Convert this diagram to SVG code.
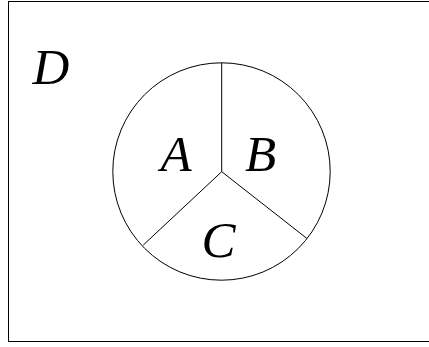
<svg xmlns="http://www.w3.org/2000/svg" width="429" height="347" viewBox="0 0 429 347">
<style>
.ln{fill:none;stroke:#000;stroke-width:1}
.lb{font-family:'Liberation Serif',serif;font-style:italic;font-size:51px;fill:#000;text-anchor:middle}
</style>
<rect width="429" height="347" fill="#fff"/>
<g id="D">
<rect x="8.5" y="1.5" width="430" height="340" class="ln" stroke-width="1.2"/>
<text class="lb" x="51" y="83.5">D</text>
</g>
<g id="circle">
<circle cx="221.5" cy="171.5" r="108.7" class="ln"/>
</g>
<g id="connectors">
<path class="ln" d="M221.7 62.8 V171.7 L143.3 245 M221.7 171.7 L306.7 238.3"/>
</g>
<g id="A"><text class="lb" x="176" y="170.7">A</text></g>
<g id="B"><text class="lb" x="260.5" y="170.7">B</text></g>
<g id="C"><text class="lb" x="218.5" y="256.7">C</text></g>
</svg>
